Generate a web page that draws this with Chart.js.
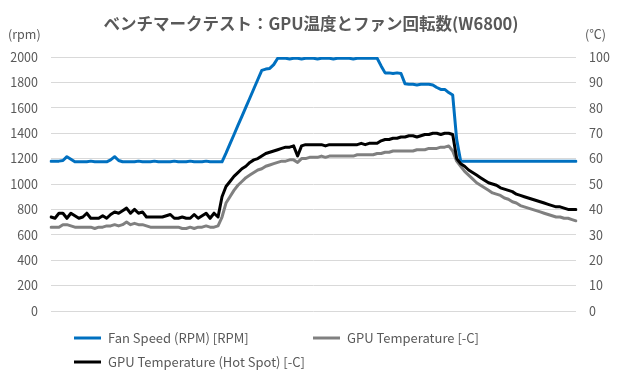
<!DOCTYPE html>
<html lang="ja">
<head>
<meta charset="utf-8">
<title>GPU温度とファン回転数</title>
<script src="https://cdn.jsdelivr.net/npm/chart.js@4"></script>
<style>
    html, body { margin: 0; padding: 0; background: #fff; }
    #chart { display: block; }
</style>
</head>
<body>
<canvas id="chart" width="620" height="379"></canvas>
<script>
// chart data (one sample every few seconds)
const titleText = 'ベンチマークテスト：GPU温度とファン回転数(W6800)';
const leftUnit = '(rpm)';
const rightUnit = '(℃)';
const seriesNames = ['Fan Speed (RPM) [RPM]', 'GPU Temperature [-C]', 'GPU Temperature (Hot Spot) [-C]'];

const fanSpeed = [
    1180, 1180, 1180, 1185, 1215, 1195, 1175, 1175, 1175, 1175,
    1180, 1175, 1175, 1175, 1175, 1190, 1215, 1185, 1175, 1175,
    1175, 1175, 1180, 1175, 1175, 1175, 1180, 1175, 1175, 1175,
    1175, 1180, 1175, 1175, 1175, 1180, 1175, 1175, 1175, 1180,
    1175, 1175, 1175, 1175,
    1243, 1316, 1388, 1461, 1533, 1605, 1677, 1750, 1823, 1895,
    1905, 1910, 1940, 1990,
    1990, 1990, 1985, 1990, 1990, 1985, 1990, 1990, 1990, 1985,
    1990, 1990, 1990, 1985, 1990, 1990, 1990, 1990, 1985, 1990,
    1990, 1990, 1990, 1990, 1990,
    1930, 1875, 1875, 1870, 1875, 1870, 1790, 1785, 1785, 1780,
    1785, 1785, 1785, 1780, 1760, 1745, 1745, 1720, 1700, 1350,
    1180, 1180, 1180, 1180, 1180, 1180, 1180, 1180, 1180, 1180,
    1180, 1180, 1180, 1180, 1180, 1180, 1180, 1180, 1180, 1180,
    1180, 1180, 1180, 1180, 1180, 1180, 1180, 1180, 1180, 1180
];

const gpuTemp = [
    33, 33, 33, 34, 34, 33.5, 33, 33, 33, 33,
    33, 32.5, 33, 33, 33.5, 33.5, 34, 33.5, 34, 35,
    34, 34.5, 34, 34, 33.5, 33, 33, 33, 33, 33,
    33, 33, 33, 32.5, 32.5, 33, 32.5, 33, 33, 33.5,
    33, 33, 33.5,
    37, 42.5, 45, 47.5, 49.5, 51, 52.5, 53.5, 54.5, 55.5,
    56, 57, 57.5, 58,
    58.5, 59, 59, 59.5, 59.5, 58.5, 60, 60, 60.5, 60.5,
    60.5, 61, 60.5, 61, 61, 61, 61, 61, 61, 61,
    61.5, 61.5, 61.5, 61.5, 61.5, 62, 62, 62.5, 62.5, 63,
    63, 63, 63, 63, 63, 63.5, 63.5, 63.5, 64, 64,
    64, 64.5, 64.5, 65, 63,
    59, 57, 55, 53.5, 52, 50.5, 49.5, 48.5, 47.5, 46.5,
    46, 45.5, 44.5, 44, 43, 42.5, 41.5, 41, 40.5, 40,
    39.5, 39, 38.5, 38, 37.5, 37, 37, 36.5, 36.5, 36,
    35.5
];

const hotSpotTemp = [
    37, 36.5, 38.5, 38.5, 36.5, 38.5, 37.5, 36.5, 37, 38.5,
    36.5, 36.5, 36.5, 37.5, 36.5, 38, 39, 38.5, 39.5, 40.5,
    38.5, 40, 38.5, 39, 37, 37, 37, 37, 37, 37.5,
    38, 36.5, 36.5, 37, 36.5, 36.5, 38, 36.5, 37.5, 38.5,
    36.5, 38.5, 37,
    45, 49, 51, 53, 54.5, 56, 57, 58.5, 59.5, 60,
    61, 62, 62.5, 63, 63.5, 64, 64.5, 64.5, 65, 61,
    65, 65.5, 65.5, 65.5, 65.5, 65.5, 65, 65.5, 65.5, 65.5,
    65.5, 65.5, 65.5, 65.5, 65.5, 66, 65.5, 66, 66, 66,
    67, 67.5, 67.5, 68, 68, 68.5, 68.5, 69, 69, 68.5,
    69, 69.5, 69.5, 70, 70, 69.5, 70, 70, 69.5,
    60, 58, 57, 55.5, 54.5, 53.5, 52.5, 51.5, 50.5, 50,
    49.5, 48.5, 48, 47.5, 47, 46, 45.5, 45, 44.5, 44,
    43.5, 43, 42.5, 42, 41.5, 41, 41, 40.5, 40, 40,
    40
];

const timeLabels = fanSpeed.map((v, i) => i);

const textColor = '#595959';
const gridColor = '#d9d9d9';
const fontFamily = "'Noto Sans CJK JP', 'Noto Sans', sans-serif";

Chart.defaults.font.family = fontFamily;
Chart.defaults.font.size = 12.5;
Chart.defaults.color = textColor;

// title, unit labels and a two-row legend drawn on the canvas
const extraText = {
    id: 'extraText',
    afterDraw(chart) {
        const ctx = chart.ctx;
        ctx.save();
        ctx.fillStyle = textColor;
        ctx.textBaseline = 'middle';

        ctx.font = 'bold 16.5px ' + fontFamily;
        ctx.textAlign = 'center';
        ctx.fillText(titleText, 311, 24);

        ctx.font = '12.5px ' + fontFamily;
        ctx.textAlign = 'left';
        ctx.fillText(leftUnit, 8, 34);
        ctx.fillText(rightUnit, 585, 34);

        ctx.font = '13px ' + fontFamily;
        const spots = [[74, 338], [313, 338], [74, 362]];
        chart.data.datasets.forEach((ds, i) => {
            const [x, y] = spots[i];
            ctx.strokeStyle = ds.borderColor;
            ctx.lineWidth = 3;
            ctx.beginPath();
            ctx.moveTo(x, y);
            ctx.lineTo(x + 27, y);
            ctx.stroke();
            ctx.fillText(ds.label, x + 34, y);
        });
        ctx.restore();
    }
};

new Chart(document.getElementById('chart'), {
    type: 'line',
    data: {
        labels: timeLabels,
        datasets: [
            {
                label: seriesNames[0],
                data: fanSpeed,
                yAxisID: 'y',
                borderColor: '#0070c0',
                order: 3
            },
            {
                label: seriesNames[1],
                data: gpuTemp,
                yAxisID: 'y1',
                borderColor: '#808080',
                order: 2
            },
            {
                label: seriesNames[2],
                data: hotSpotTemp,
                yAxisID: 'y1',
                borderColor: '#000000',
                order: 1
            }
        ]
    },
    options: {
        responsive: false,
        animation: false,
        layout: {
            padding: { top: 57, bottom: 68, left: 0, right: 0 }
        },
        elements: {
            point: { radius: 0 },
            line: { borderWidth: 3, tension: 0, borderJoinStyle: 'round', borderCapStyle: 'round' }
        },
        plugins: {
            legend: { display: false },
            tooltip: { enabled: false }
        },
        scales: {
            x: {
                display: false,
                offset: false
            },
            y: {
                position: 'left',
                min: 0,
                max: 2000,
                ticks: { stepSize: 200, padding: 13, color: textColor, callback: v => String(v) },
                grid: { color: gridColor, drawTicks: false },
                border: { display: false },
                afterFit: scale => { scale.width = 51; }
            },
            y1: {
                position: 'right',
                min: 0,
                max: 100,
                ticks: { stepSize: 10, padding: 13, color: textColor, callback: v => String(v) },
                grid: { drawOnChartArea: false, drawTicks: false },
                border: { display: false },
                afterFit: scale => { scale.width = 44; }
            }
        }
    },
    plugins: [extraText]
});
</script>
</body>
</html>
